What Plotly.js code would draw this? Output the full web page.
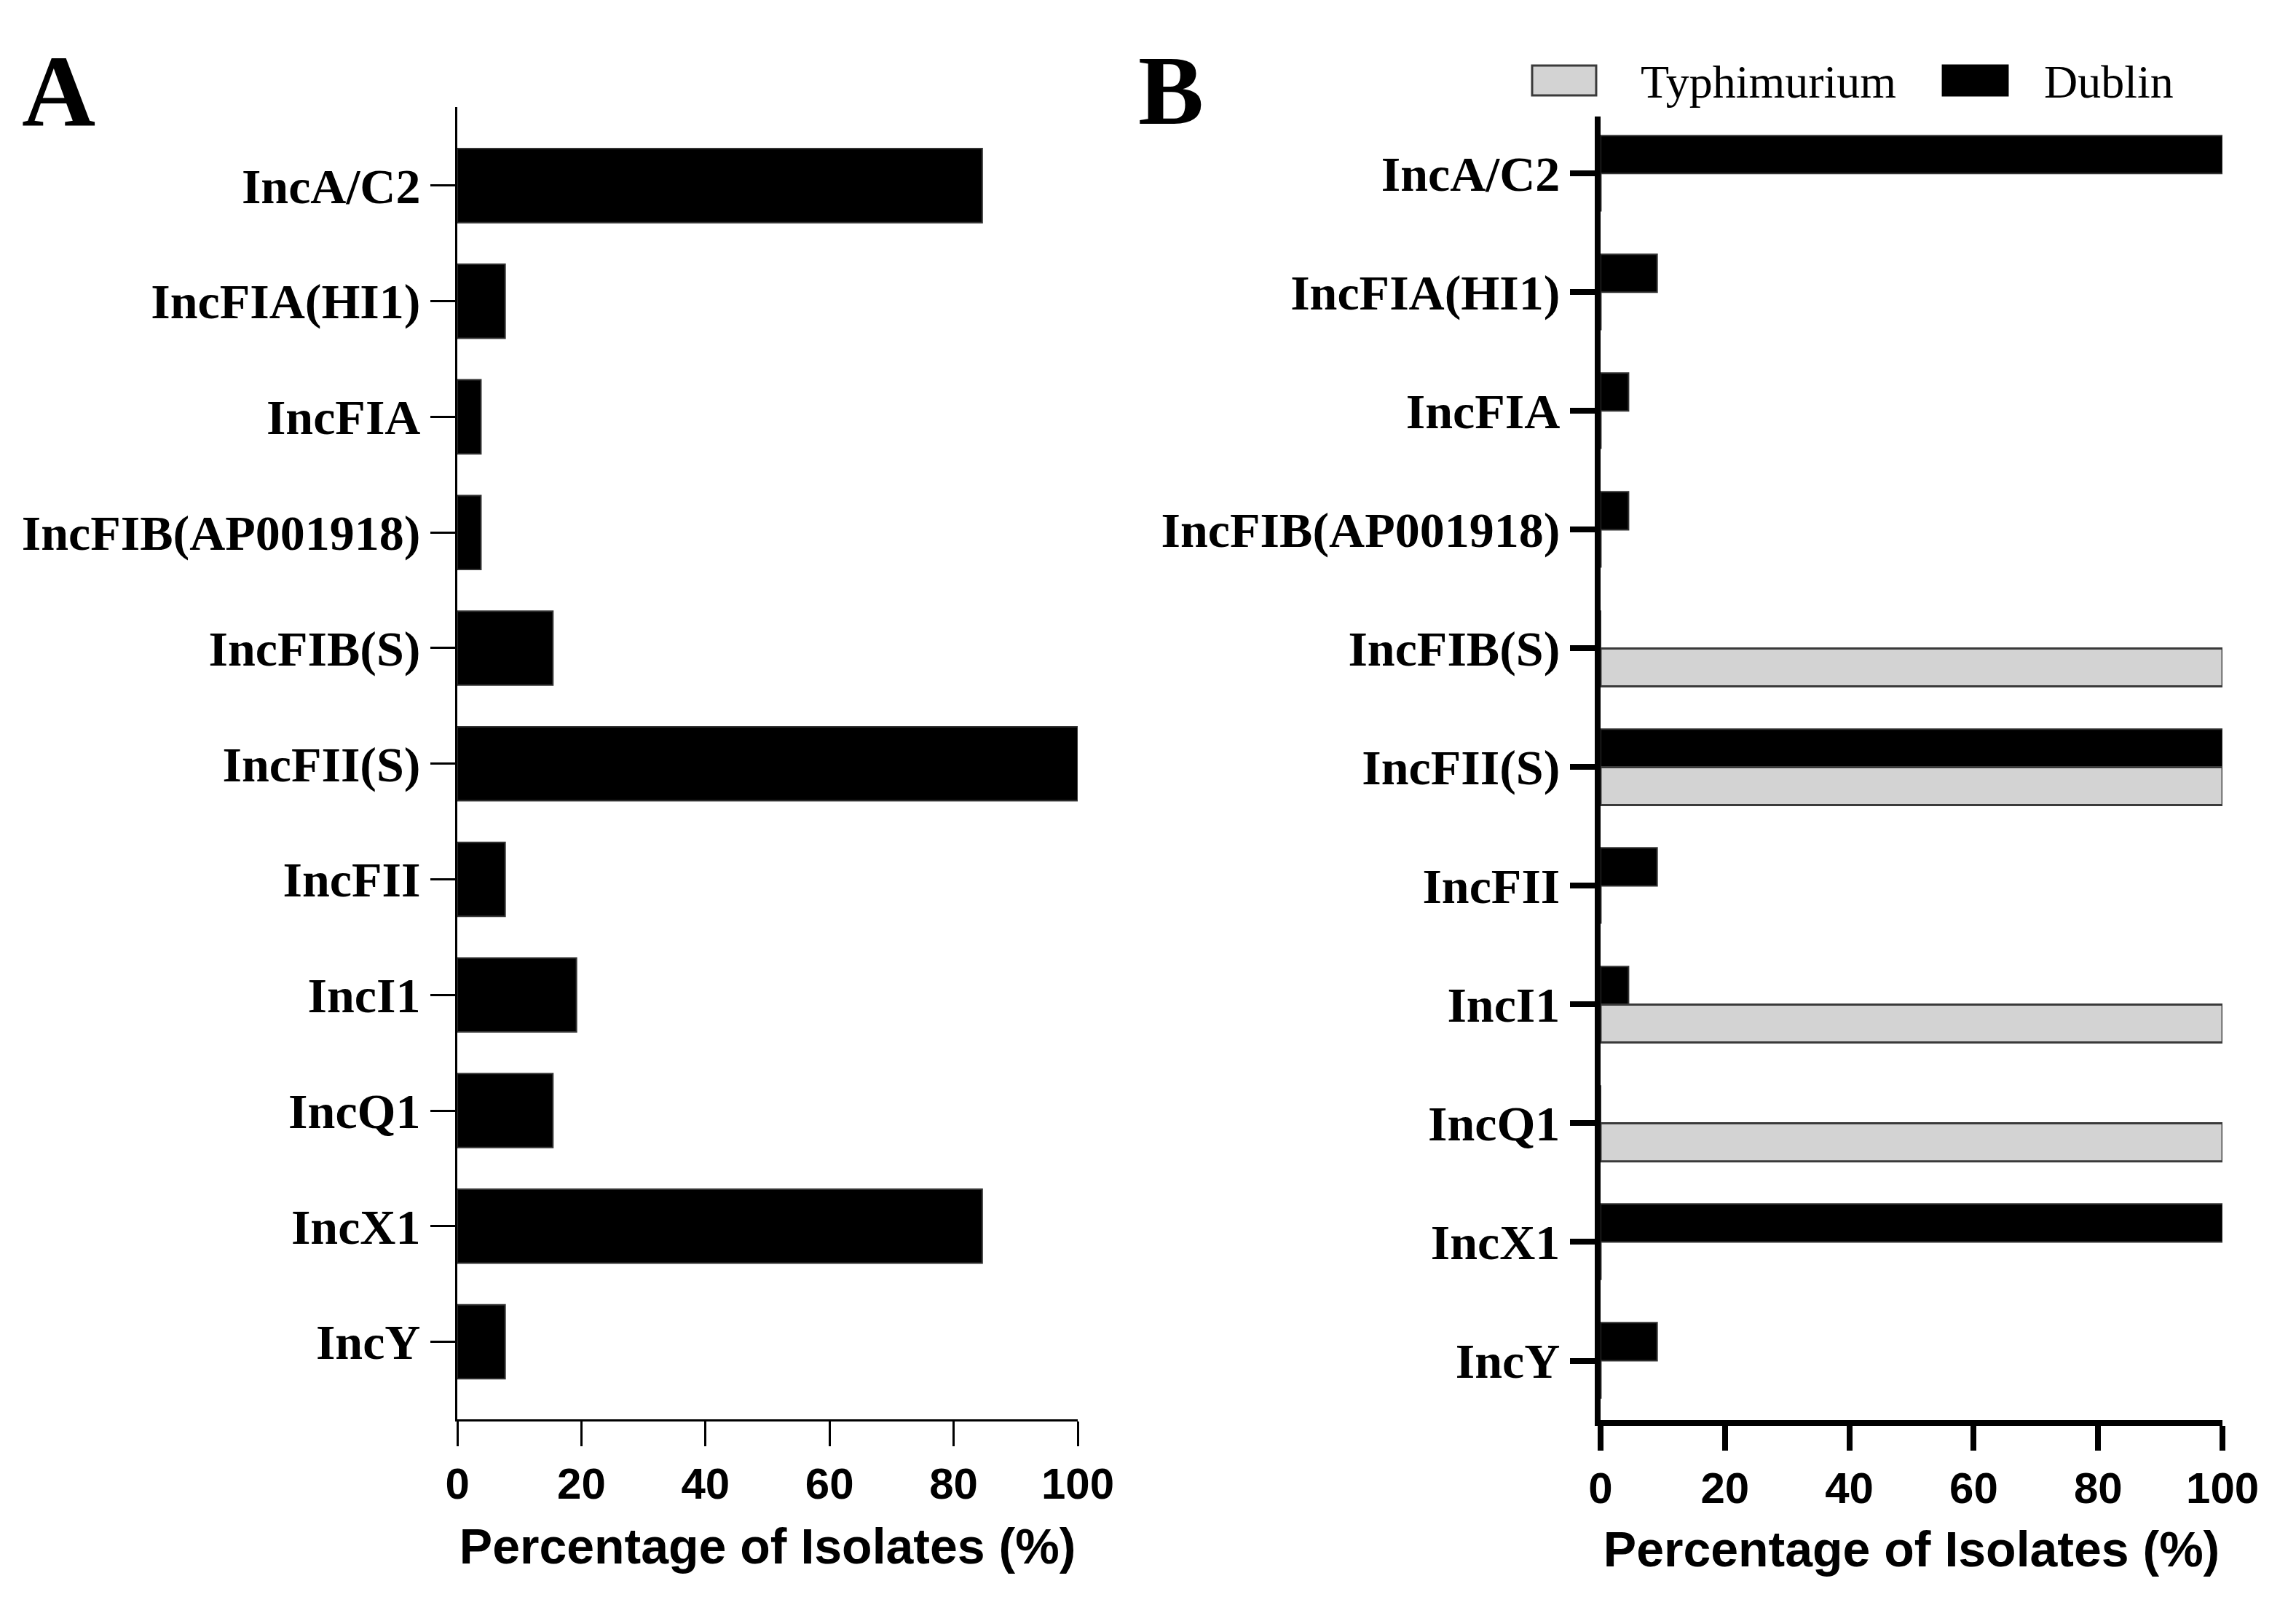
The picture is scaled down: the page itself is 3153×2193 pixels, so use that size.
<!DOCTYPE html>
<html>
<head>
<meta charset="utf-8">
<script src="https://cdn.plot.ly/plotly-3.0.1.min.js"></script>
<style>html,body{margin:0;padding:0;background:#fff;}#chart{width:3153px;height:2193px;}</style>
</head>
<body>
<div id="chart"></div>
<script>
// ---- data ----
const categories = ["IncA/C2", "IncFIA(HI1)", "IncFIA", "IncFIB(AP001918)", "IncFIB(S)", "IncFII(S)", "IncFII", "IncI1", "IncQ1", "IncX1", "IncY"];
const allIsolates = [84.6, 7.7, 3.8, 3.8, 15.4, 100, 7.7, 19.2, 15.4, 84.6, 7.7];
const typhimurium = [0, 0, 0, 0, 100, 100, 0, 100, 100, 0, 0];
const dublin = [100, 9.1, 4.5, 4.5, 0, 100, 9.1, 4.5, 0, 100, 9.1];
const seriesNames = ["Typhimurium", "Dublin"];
const xTicks = [0, 20, 40, 60, 80, 100];
const xTitle = "Percentage of Isolates (%)";
const panelLabels = ["A", "B"];

const serifBold = {family: "Liberation Serif", size: 68, color: "#000", weight: "bold"};
const sansBold = {family: "Liberation Sans", size: 60, color: "#000", weight: "bold"};
const titleFont = {family: "Liberation Sans", size: 68, color: "#000", weight: "bold"};

const traces = [
  {type: "bar", orientation: "h", y: categories, x: allIsolates, xaxis: "x", yaxis: "y",
   marker: {color: "#000", line: {color: "#333", width: 2}}, name: "All", showlegend: false, hoverinfo: "x+y"},
  {type: "bar", orientation: "h", y: categories, x: dublin, xaxis: "x2", yaxis: "y2",
   marker: {color: "#000", line: {color: "#333", width: 2}}, name: seriesNames[1], showlegend: false},
  {type: "bar", orientation: "h", y: categories, x: typhimurium, xaxis: "x2", yaxis: "y2",
   marker: {color: "#d3d3d3", line: {color: "#3a3a3a", width: 3}}, name: seriesNames[0], showlegend: false}
];

function xAxis(domain, anchor, lw) {
  return {domain: domain, anchor: anchor, range: [0, 100], tickvals: xTicks, ticktext: xTicks.map(String),
    showline: true, linecolor: "#000", linewidth: lw, ticks: "outside", ticklen: 34, tickwidth: lw, tickcolor: "#000",
    showgrid: false, zeroline: false, tickfont: sansBold, fixedrange: true,
    title: {text: xTitle, font: titleFont, standoff: 30}};
}
function yAxis(domain, anchor, range, lw) {
  return {domain: domain, anchor: anchor, type: "category", categoryorder: "array", categoryarray: categories,
    range: range, showline: true, linecolor: "#000", linewidth: lw, ticks: "outside", ticklen: 34, tickwidth: lw,
    tickcolor: "#000", showgrid: false, zeroline: false, tickfont: serifBold, fixedrange: true};
}

const layout = {
  width: 3153, height: 2193,
  margin: {l: 0, r: 0, t: 0, b: 0},
  paper_bgcolor: "#fff", plot_bgcolor: "#fff",
  barmode: "group", bargap: 0.36, bargroupgap: 0,
  showlegend: false,
  xaxis: xAxis([0.1992, 0.4694], "y", 3),
  yaxis: yAxis([0.1113, 0.9330], "x", [10.67, -0.68], 3),
  xaxis2: xAxis([0.6971, 0.9680], "y2", 8),
  yaxis2: yAxis([0.1108, 0.9270], "x2", [10.5, -0.48], 8),
  shapes: [
    {type: "rect", xref: "paper", yref: "paper", x0: 0.6673, x1: 0.6952, y0: 0.9403, y1: 0.9590,
     fillcolor: "#d3d3d3", line: {color: "#3a3a3a", width: 3}},
    {type: "rect", xref: "paper", yref: "paper", x0: 0.8462, x1: 0.8744, y0: 0.9403, y1: 0.9590,
     fillcolor: "#000", line: {color: "#000", width: 3}}
  ],
  annotations: [
    {text: panelLabels[0], xref: "paper", yref: "paper", x: 0.009, y: 1 - 175/2193, xanchor: "left", yanchor: "bottom",
     showarrow: false, font: {family: "Liberation Serif", size: 140, color: "#000", weight: "bold"}, yshift: -30},
    {text: panelLabels[1], xref: "paper", yref: "paper", x: 0.4950, y: 1 - 171/2193, xanchor: "left", yanchor: "bottom",
     showarrow: false, font: {family: "Liberation Serif", size: 135, color: "#000", weight: "bold"}, yshift: -30},
    {text: seriesNames[0], xref: "paper", yref: "paper", x: 2251/3153, y: 1 - 112/2193, xanchor: "left", yanchor: "middle",
     showarrow: false, font: {family: "Liberation Serif", size: 64, color: "#000"}},
    {text: seriesNames[1], xref: "paper", yref: "paper", x: 2805/3153, y: 1 - 112/2193, xanchor: "left", yanchor: "middle",
     showarrow: false, font: {family: "Liberation Serif", size: 64, color: "#000"}}
  ]
};

Plotly.newPlot("chart", traces, layout, {displayModeBar: false, staticPlot: true});
</script>
</body>
</html>
